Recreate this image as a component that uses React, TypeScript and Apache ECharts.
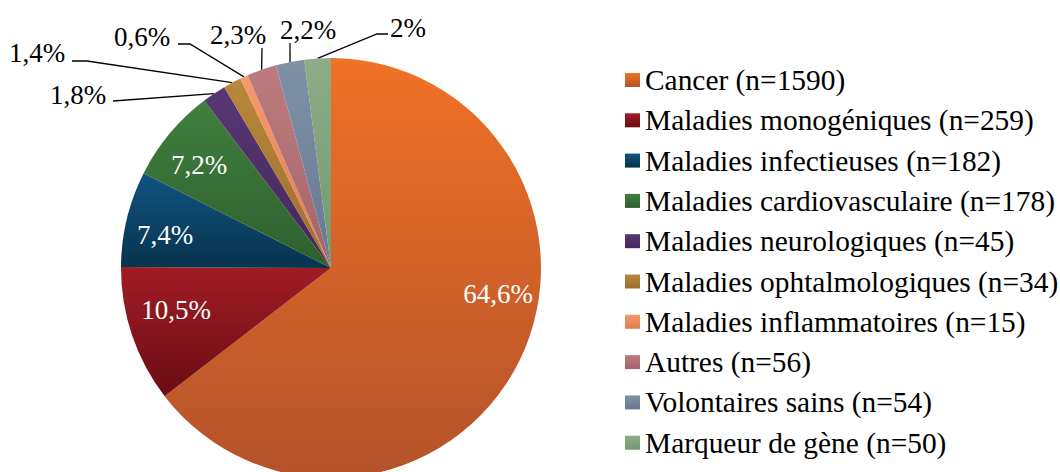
import React, { useEffect, useRef } from "react";
import * as echarts from "echarts";

const categories = [
  "Cancer",
  "Maladies monogéniques",
  "Maladies infectieuses",
  "Maladies cardiovasculaire",
  "Maladies neurologiques",
  "Maladies ophtalmologiques",
  "Maladies inflammatoires",
  "Autres",
  "Volontaires sains",
  "Marqueur de gène",
];
const counts = [1590, 259, 182, 178, 45, 34, 15, 56, 54, 50];

// styles: gradient top / bottom colour of each slice
const topColors = ["#F07226", "#A11C25", "#105480", "#3F803E", "#5A3774", "#B8883C", "#F6996C", "#BD7C7F", "#7F92A8", "#8DAD87"];
const bottomColors = ["#B4522A", "#6A0C13", "#07334E", "#2E5F2E", "#44275A", "#9A6E2C", "#E07C50", "#A2636A", "#66788F", "#76966F"];

// label layout (pixel positions of the percentage texts and elbows of their leader lines)
const insideLabelPos: Record<number, [number, number]> = {
  0: [498, 294],
  1: [176, 310],
  2: [165, 235],
  3: [199, 165],
};
const outsideLabelPos: Record<number, { text: [number, number]; line: number[][] }> = {
  4: { text: [78, 95], line: [[113, 101]] },
  5: { text: [37, 53], line: [[87, 61], [72, 61]] },
  6: { text: [142, 37], line: [[190, 44], [178, 44]] },
  7: { text: [238, 35], line: [[262, 48]] },
  8: { text: [308, 30], line: [[290, 43]] },
  9: { text: [408, 28], line: [[377, 34], [388, 34]] },
};

const FONT = "'Liberation Serif', 'Times New Roman', Times, serif";

export default function App() {
  const ref = useRef<HTMLDivElement>(null);
  useEffect(() => {
    if (!ref.current) return;
    const chart = echarts.init(ref.current, null, { renderer: "svg" });
    const total = counts.reduce((a, b) => a + b, 0);
    const data = categories.map((c, i) => {
      const inside = insideLabelPos[i] != null;
      return {
        name: `${c} (n=${counts[i]})`,
        value: counts[i],
        itemStyle: {
          color: new echarts.graphic.LinearGradient(0, 0, 0, 1, [
            { offset: 0, color: topColors[i] },
            { offset: 1, color: bottomColors[i] },
          ]),
        },
        label: {
          position: inside ? "inside" : "outside",
          color: inside ? "#ffffff" : "#000000",
        },
        labelLine: { show: !inside },
      };
    });
    chart.setOption({
      animation: false,
      backgroundColor: "#ffffff",
      legend: {
        orient: "vertical",
        left: 625,
        top: 65,
        padding: 0,
        itemWidth: 15,
        itemHeight: 14,
        itemGap: 10.3,
        icon: "rect",
        selectedMode: false,
        textStyle: { fontFamily: FONT, fontSize: 29.4, color: "#000", lineHeight: 30 },
        data: data.map((d) => d.name),
      },
      series: [
        {
          type: "pie",
          center: [331, 268],
          radius: [0, 210],
          startAngle: 90,
          clockwise: true,
          avoidLabelOverlap: false,
          silent: true,
          data,
          label: {
            show: true,
            fontFamily: FONT,
            fontSize: 27,
            formatter: (p: any) => {
              const v = Math.round((p.value / total) * 1000) / 10;
              return (Number.isInteger(v) ? String(v) : v.toFixed(1)).replace(".", ",") + "%";
            },
          },
          labelLine: {
            show: true,
            length: 10,
            length2: 10,
            lineStyle: { color: "#000", width: 1.3 },
          },
          labelLayout: (params: any) => {
            const i = params.dataIndex;
            if (insideLabelPos[i]) {
              const [x, y] = insideLabelPos[i];
              return { x, y, align: "center", verticalAlign: "middle", hideOverlap: false };
            }
            const o = outsideLabelPos[i];
            if (o) {
              const anchor =
                params.labelLinePoints && params.labelLinePoints[0]
                  ? [params.labelLinePoints[0][0], params.labelLinePoints[0][1]]
                  : o.line[0];
              return {
                x: o.text[0],
                y: o.text[1],
                align: "center",
                verticalAlign: "middle",
                hideOverlap: false,
                labelLinePoints: [anchor, ...o.line],
              };
            }
            return {};
          },
        },
      ],
    });
    return () => chart.dispose();
  }, []);
  return (
    <div
      ref={ref}
      style={{ position: "absolute", left: 0, top: 0, width: 1060, height: 472 }}
    />
  );
}
